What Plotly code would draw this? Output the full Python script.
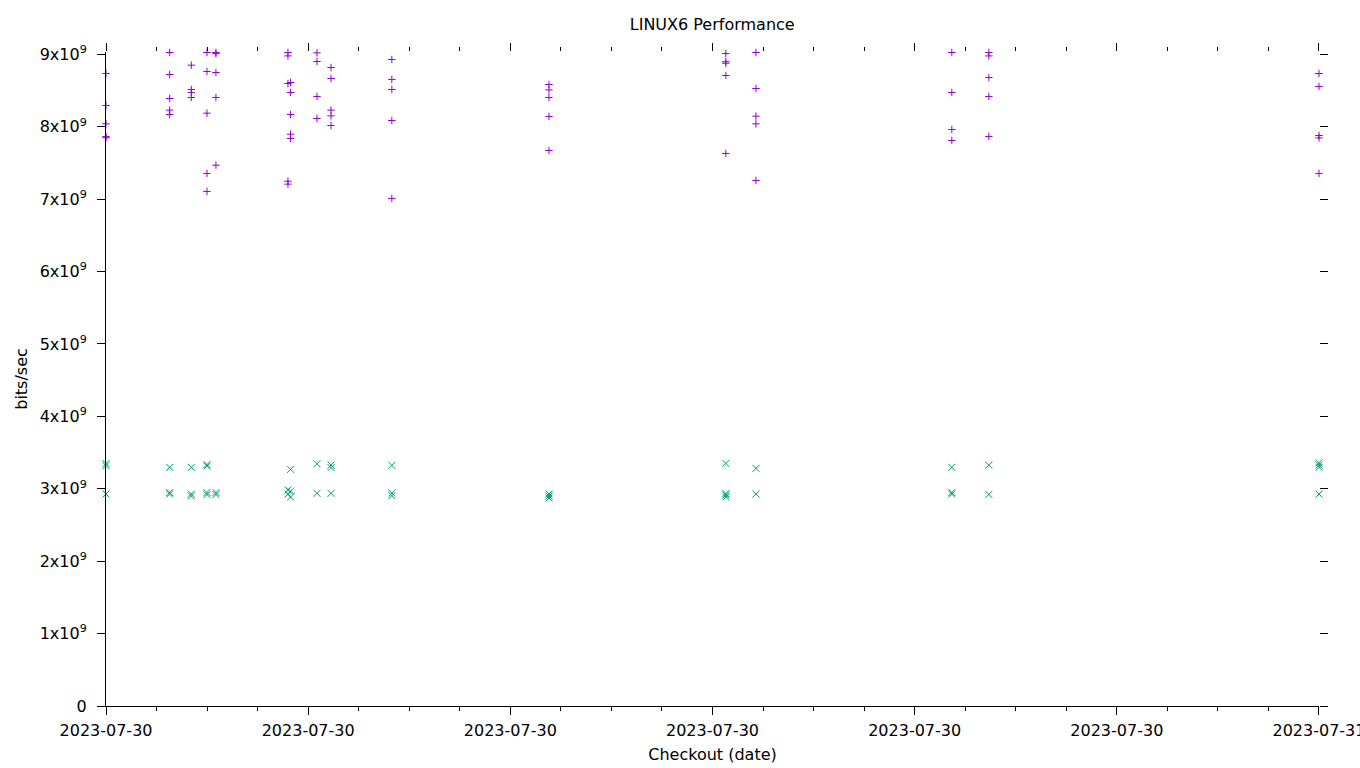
import plotly.graph_objects as go

# ---- data ----
checkout_times = [
    "2023-07-30 18:00:00", "2023-07-30 18:18:54", "2023-07-30 18:25:19",
    "2023-07-30 18:29:58", "2023-07-30 18:32:38", "2023-07-30 18:54:00",
    "2023-07-30 18:54:47", "2023-07-30 19:02:37", "2023-07-30 19:06:47",
    "2023-07-30 19:24:50", "2023-07-30 20:11:28", "2023-07-30 21:03:58",
    "2023-07-30 21:12:54", "2023-07-30 22:11:02", "2023-07-30 22:22:01",
    "2023-07-31 00:00:00",
]

# series 1 (purple +), values in units of 1e9 bits/sec, one list per checkout time
plus_values = [
    [8.735, 8.293, 8.040, 7.863, 7.849],
    [9.025, 8.721, 8.390, 8.229, 8.169],
    [8.850, 8.514, 8.473, 8.404],
    [9.025, 8.763, 8.187, 7.355, 7.106],
    [9.025, 9.009, 8.749, 8.404, 7.469],
    [9.025, 8.978, 8.597, 7.248, 7.207],
    [8.611, 8.473, 8.169, 7.897, 7.838],
    [9.034, 9.020, 8.901, 8.418, 8.114],
    [8.818, 8.666, 8.229, 8.150, 8.017],
    [8.929, 8.653, 8.514, 8.086, 7.010],
    [8.583, 8.509, 8.404, 8.142, 7.672],
    [9.011, 8.898, 8.877, 8.708, 7.631],
    [9.025, 8.528, 8.146, 8.040, 7.258],
    [9.036, 9.025, 8.473, 7.962, 7.810],
    [9.025, 8.978, 8.680, 8.418, 7.866],
    [8.735, 8.556, 7.879, 7.846, 7.355],
]

# series 2 (green x)
cross_values = [
    [3.348, 3.320, 2.927],
    [3.296, 2.948, 2.927],
    [3.296, 2.927, 2.899],
    [3.334, 3.313, 2.948, 2.920],
    [2.948, 2.920],
    [2.982, 2.927],
    [3.268, 2.968, 2.886],
    [3.345, 2.937],
    [3.327, 3.293, 2.937],
    [3.323, 2.941, 2.906],
    [2.927, 2.899, 2.872],
    [3.351, 2.934, 2.913, 2.886],
    [3.282, 2.927],
    [3.296, 2.948, 2.927],
    [3.327, 2.923],
    [3.359, 3.327, 3.296, 2.927],
]

y_tick_values = [0, 1, 2, 3, 4, 5, 6, 7, 8, 9]
y_tick_labels = ["0"] + [f"{v}x10<sup>9</sup>" for v in y_tick_values[1:]]
x_range = ["2023-07-30 18:00:00", "2023-07-31 00:00:00.5"]
y_max = 9.032

SCALE = 1e9


def flatten(times, groups):
    xs, ys = [], []
    for t, vals in zip(times, groups):
        for v in vals:
            xs.append(t)
            ys.append(v * SCALE)
    return xs, ys


px, py = flatten(checkout_times, plus_values)
cx, cy = flatten(checkout_times, cross_values)

FONT = "DejaVu Sans"
FS = 16
PURPLE = "#9400d3"
GREEN = "#009e73"

fig = go.Figure()
fig.add_trace(go.Scatter(
    x=px, y=py, mode="markers", name="series 1",
    marker=dict(symbol="cross-thin-open", size=5.3, color=PURPLE,
                line=dict(color=PURPLE, width=1)),
    cliponaxis=False,
))
fig.add_trace(go.Scatter(
    x=cx, y=cy, mode="markers", name="series 2",
    marker=dict(symbol="x-thin-open", size=7, color=GREEN,
                line=dict(color=GREEN, width=1)),
    cliponaxis=False,
))
# empty trace so the mirrored (top/right) tick axes get drawn
fig.add_trace(go.Scatter(x=[], y=[], xaxis="x2", yaxis="y2",
                         mode="markers", showlegend=False, hoverinfo="skip"))

yvals = [v * SCALE for v in y_tick_values]
yr = [0, y_max * SCALE]

common_x = dict(
    type="date", range=x_range, tick0="2023-07-30 18:00:00", dtick=3600000,
    tickformat="%Y-%m-%d", ticks="outside", ticklen=8, tickwidth=1,
    tickcolor="black", showgrid=False, zeroline=False,
    minor=dict(ticks="outside", ticklen=4, tickwidth=1, tickcolor="black",
               dtick=900000, tick0="2023-07-30 18:00:00", showgrid=False),
)
common_y = dict(
    range=yr, tickmode="array", tickvals=yvals, ticktext=y_tick_labels,
    ticks="outside", ticklen=8, tickwidth=1, tickcolor="black",
    showgrid=False, zeroline=False,
)

fig.update_layout(
    width=1360, height=768,
    margin=dict(l=106, r=41, t=52, b=62, autoexpand=False),
    paper_bgcolor="white", plot_bgcolor="white",
    showlegend=False,
    font=dict(family=FONT, size=FS, color="black"),
    title=dict(text="LINUX6 Performance", x=0.5237, xanchor="center",
               y=1 - 24 / 768, yanchor="middle",
               font=dict(family=FONT, size=FS, color="black")),
    xaxis=dict(**common_x, showline=True, linecolor="black", linewidth=1,
               title=dict(text="Checkout (date)", standoff=9,
                          font=dict(family=FONT, size=FS)),
               tickfont=dict(family=FONT, size=FS, color="black"),
               ticklabelstandoff=2, ticklabeloverflow="allow",
               automargin=False),
    yaxis=dict(**common_y, showline=True, linecolor="black", linewidth=1,
               title=dict(text="bits/sec", standoff=8,
                          font=dict(family=FONT, size=FS)),
               tickfont=dict(family=FONT, size=FS, color="black"),
               ticklabelstandoff=7, ticklabeloverflow="allow",
               automargin=False),
    xaxis2=dict(**common_x, overlaying="x", side="top", anchor="y2",
                showline=False, showticklabels=False),
    yaxis2=dict(**common_y, overlaying="y", side="right", anchor="x2",
                showline=False, showticklabels=False),
)

fig.write_html("out.html")
